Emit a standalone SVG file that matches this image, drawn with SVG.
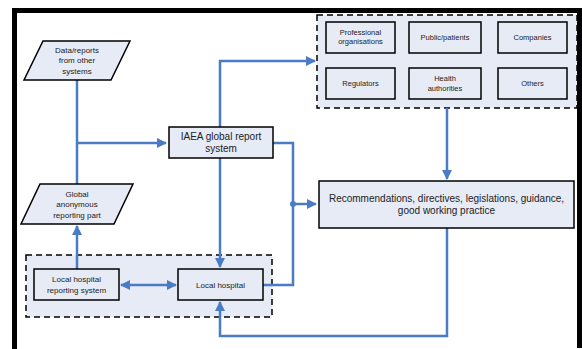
<svg xmlns="http://www.w3.org/2000/svg" width="582" height="349" viewBox="0 0 582 349">
<style>
.box{fill:#e6ebf6;stroke:#000;stroke-width:1.5}
.grp{fill:#e6ebf6;stroke:#000;stroke-width:1.5;stroke-dasharray:6,4}
.ln{fill:none;stroke:#4a7cc6;stroke-width:2.5}
text{font-family:"Liberation Sans",Arial,sans-serif;fill:#222;text-anchor:middle}
.s{font-size:7.5px}
.m{font-size:8px}
.l{font-size:10px}
</style>
<defs>
<marker id="ah" viewBox="0 0 10 10" refX="9" refY="5" markerWidth="4" markerHeight="4" orient="auto-start-reverse" markerUnits="strokeWidth">
<path d="M0,0 L10,5 L0,10 z" fill="#4a7cc6"/>
</marker>
</defs>
<rect width="582" height="349" fill="#fff"/>
<g id="frame">
<rect x="12" y="8" width="570" height="5" fill="#000"/>
<rect x="12" y="8" width="5" height="341" fill="#000"/>
<rect x="577" y="8" width="5" height="340" fill="#000"/>
</g>
<g id="group-stakeholders">
<rect class="grp" x="317" y="15" width="260" height="93"/>
</g>
<g id="group-local">
<rect class="grp" x="26" y="255" width="246" height="62"/>
</g>
<g id="connectors">
<path class="ln" d="M77,80 V184"/>
<path class="ln" d="M77,143 H166" marker-end="url(#ah)"/>
<path class="ln" d="M220,127 V61 H315" marker-end="url(#ah)"/>
<path class="ln" d="M273,143 H293 V285 H263"/>
<path class="ln" d="M293,204 H316" marker-end="url(#ah)"/>
<circle cx="293" cy="204" r="3" fill="#4a7cc6"/>
<path class="ln" d="M220,158 V267" marker-end="url(#ah)"/>
<path class="ln" d="M447,108 V179" marker-end="url(#ah)"/>
<path class="ln" d="M447,228 V336 H220 V302" marker-end="url(#ah)"/>
<path class="ln" d="M77,269 V226" marker-end="url(#ah)"/>
<path class="ln" d="M121,285 H176" marker-start="url(#ah)" marker-end="url(#ah)"/>
</g>
<g id="data-reports">
<polygon class="box" points="43,41 130,41 111,80 24,80"/>
<text class="m" x="77" y="53">Data/reports</text>
<text class="m" x="77" y="63">from other</text>
<text class="m" x="77" y="74">systems</text>
</g>
<g id="iaea">
<rect class="box" x="169" y="127" width="104" height="31"/>
<text class="l" x="221" y="140">IAEA global report</text>
<text class="l" x="221" y="152">system</text>
</g>
<g id="professional">
<rect class="box" x="326" y="22" width="69" height="31"/>
<text class="s" x="360.5" y="35">Professional</text>
<text class="s" x="360.5" y="44">organisations</text>
</g>
<g id="public">
<rect class="box" x="409" y="22" width="72" height="31"/>
<text class="s" x="445" y="40">Public/patients</text>
</g>
<g id="companies">
<rect class="box" x="498" y="22" width="69" height="31"/>
<text class="s" x="532.5" y="40">Companies</text>
</g>
<g id="regulators">
<rect class="box" x="326" y="68" width="69" height="31"/>
<text class="s" x="360.5" y="86">Regulators</text>
</g>
<g id="health">
<rect class="box" x="409" y="68" width="72" height="31"/>
<text class="s" x="445" y="81">Health</text>
<text class="s" x="445" y="91">authorities</text>
</g>
<g id="others">
<rect class="box" x="498" y="68" width="69" height="31"/>
<text class="s" x="532.5" y="86">Others</text>
</g>
<g id="recommendations">
<rect class="box" x="319" y="181" width="255" height="47"/>
<text class="l" x="446.5" y="202">Recommendations, directives, legislations, guidance,</text>
<text class="l" x="446.5" y="214">good working practice</text>
</g>
<g id="global-anon">
<polygon class="box" points="40,184 133,184 114,224 21,224"/>
<text class="m" x="77" y="197">Global</text>
<text class="m" x="77" y="207">anonymous</text>
<text class="m" x="77" y="218">reporting part</text>
</g>
<g id="local-reporting">
<rect class="box" x="34" y="269" width="85" height="31"/>
<text class="m" x="76.5" y="282">Local hospital</text>
<text class="m" x="76.5" y="293">reporting system</text>
</g>
<g id="local-hospital">
<rect class="box" x="178" y="269" width="85" height="31"/>
<text class="m" x="220.5" y="288">Local hospital</text>
</g>
</svg>
